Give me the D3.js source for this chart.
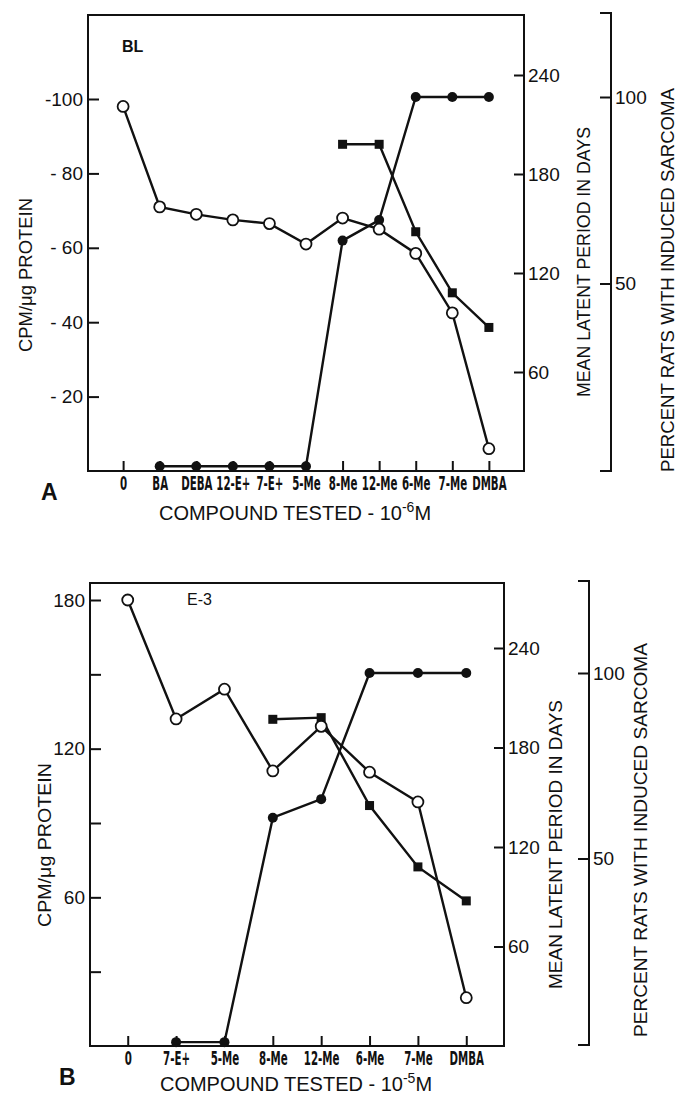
<!DOCTYPE html>
<html>
<head>
<meta charset="utf-8">
<script src="https://cdn.jsdelivr.net/npm/d3@7"></script>
<style>
body { margin: 0; background: #fff; }
svg text { font-family: "Liberation Sans", Arial, sans-serif; fill: #111; }
.tick line { stroke: #111; stroke-width: 2; }
.xlab text { font-family: "DejaVu Sans Condensed", "DejaVu Sans", sans-serif; font-weight: bold; }
</style>
</head>
<body>
<svg id="chart" width="677" height="1097"></svg>
<script>
// panel A - BL cells
var catsA = ["0", "BA", "DEBA", "12-E+", "7-E+", "5-Me", "8-Me", "12-Me", "6-Me", "7-Me", "DMBA"];
var cpmA = [98, 71, 69, 67.5, 66.5, 61, 68, 65, 58.5, 42.5, 6];
var latentA = [null, null, null, null, null, null, 198, 198, 145, 108, 87];
var percentA = [null, 1, 1, 1, 1, 1, 61.5, 67, 100, 100, 100];
var cpmTicksA = [20, 40, 60, 80, 100];

// panel B - E-3 cells
var catsB = ["0", "7-E+", "5-Me", "8-Me", "12-Me", "6-Me", "7-Me", "DMBA"];
var cpmB = [180, 132, 144, 111, 129, 110.5, 98.5, 19.5];
var latentB = [null, null, null, 197, 198, 145, 108, 87.5];
var percentB = [null, 0.5, 0.5, 61, 66, 100, 100, 100];
var cpmTicksB = [30, 60, 90, 120, 150, 180];

var dayTicks = [60, 120, 180, 240];
var percentTicks = [50, 100];

var svg = d3.select("#chart");

function drawPanel(p) {
    var g = svg.append("g");

    var x = d3.scalePoint().domain(p.cats).range([p.left, p.right]).padding(p.pad);
    var y = d3.scaleLinear().domain([0, p.cpmRef]).range([p.bottom, p.cpmRefY]);
    var yd = d3.scaleLinear().domain([0, 240]).range([p.bottom, p.day240]);
    var yp = d3.scaleLinear().domain([0, 100]).range([p.pctBottom, p.pct100]);

    // frame
    g.append("rect")
        .attr("x", p.left).attr("y", p.top)
        .attr("width", p.right - p.left).attr("height", p.bottom - p.top)
        .style("fill", "none").style("stroke", "#111").style("stroke-width", 2);

    // left axis
    var ax = g.append("g").attr("transform", "translate(" + p.left + ",0)")
        .call(d3.axisLeft(y).tickValues(p.cpmTicks).tickSize(-11).tickPadding(5).tickFormat(p.cpmFmt));
    ax.select(".domain").remove();
    ax.selectAll("text").style("font-size", "19px");

    // x axis
    var xa = g.append("g").attr("class", "xlab").attr("transform", "translate(0," + p.bottom + ")")
        .call(d3.axisBottom(x).tickSize(-10).tickPadding(6));
    xa.select(".domain").remove();
    xa.selectAll("text").style("font-size", "19px").attr("transform", "scale(0.6,1)");

    // days axis on right edge
    var da = g.append("g").attr("transform", "translate(" + p.right + ",0)")
        .call(d3.axisRight(yd).tickValues(dayTicks).tickSize(-10).tickPadding(4));
    da.select(".domain").remove();
    da.selectAll("text").style("font-size", "19px");

    // percent axis, separate line
    var pa = g.append("g").attr("transform", "translate(" + p.pctX + ",0)")
        .call(d3.axisRight(yp).tickValues(percentTicks).tickSize(-11).tickPadding(4));
    pa.select(".domain").remove();
    pa.selectAll("text").style("font-size", "19px");
    g.append("path")
        .attr("d", "M" + (p.pctX - 11) + "," + p.pctTop + "H" + p.pctX + "V" + p.pctEnd + "H" + (p.pctX - 11))
        .style("fill", "none").style("stroke", "#111").style("stroke-width", 2);

    // lines
    function series(vals, scale) {
        return vals.map(function (v, i) { return v == null ? null : { x: x(p.cats[i]), y: scale(v) }; });
    }
    var line = d3.line().defined(function (d) { return d != null; })
        .x(function (d) { return d.x; }).y(function (d) { return d.y; });

    var sPct = series(p.percent, yp), sDay = series(p.latent, yd), sCpm = series(p.cpm, y);
    [sPct, sDay, sCpm].forEach(function (s) {
        g.append("path").attr("d", line(s))
            .style("fill", "none").style("stroke", "#111").style("stroke-width", 2.4);
    });

    var ok = function (d) { return d != null; };
    g.selectAll(".pct").data(sPct.filter(ok)).enter().append("circle")
        .attr("cx", function (d) { return d.x; }).attr("cy", function (d) { return d.y; })
        .attr("r", 5).style("fill", "#111");
    g.selectAll(".day").data(sDay.filter(ok)).enter().append("rect")
        .attr("x", function (d) { return d.x - 4.5; }).attr("y", function (d) { return d.y - 4.5; })
        .attr("width", 9).attr("height", 9).style("fill", "#111");
    g.selectAll(".cpm").data(sCpm.filter(ok)).enter().append("circle")
        .attr("cx", function (d) { return d.x; }).attr("cy", function (d) { return d.y; })
        .attr("r", 5.5).style("fill", "#fff").style("stroke", "#111").style("stroke-width", 1.8);

    // texts
    g.append("text").attr("x", p.cell[0]).attr("y", p.cell[1])
        .style("font-size", "16px").style("font-weight", p.cellBold).text(p.cellName);
    g.append("text").attr("x", p.letter[0]).attr("y", p.letter[1])
        .style("font-size", "23px").style("font-weight", "900").text(p.letterName);

    function vtitle(txt, cx, y0, y1) {
        g.append("text")
            .attr("transform", "translate(" + cx + "," + ((y0 + y1) / 2) + ") rotate(-90)")
            .attr("text-anchor", "middle").attr("dy", "0.36em")
            .attr("textLength", y1 - y0).attr("lengthAdjust", "spacingAndGlyphs")
            .style("font-size", "19px").text(txt);
    }
    vtitle("CPM/\u03bcg PROTEIN", p.cpmTitle[0], p.cpmTitle[1], p.cpmTitle[2]);
    vtitle("MEAN LATENT PERIOD IN DAYS", p.dayTitle[0], p.dayTitle[1], p.dayTitle[2]);
    vtitle("PERCENT RATS WITH INDUCED SARCOMA", p.pctTitle[0], p.pctTitle[1], p.pctTitle[2]);

    var t = g.append("text").attr("x", p.comp[0]).attr("y", p.comp[1])
        .attr("text-anchor", "middle").style("font-size", "20px");
    t.append("tspan").text("COMPOUND TESTED - 10");
    t.append("tspan").attr("dy", -8).style("font-size", "14px").text(p.expo);
    t.append("tspan").attr("dy", 8).text("M");
}

drawPanel({
    cats: catsA, cpm: cpmA, latent: latentA, percent: percentA,
    cpmTicks: cpmTicksA, cpmFmt: function (d) { return (d === 100 ? "-" : "- ") + d; },
    left: 88, right: 524, top: 15, bottom: 471, pad: 0.96,
    cpmRef: 100, cpmRefY: 99, day240: 75,
    pctX: 611, pctTop: 13, pctEnd: 471, pctBottom: 470, pct100: 97,
    cell: [122, 52], cellName: "BL", cellBold: "bold",
    letter: [41, 500], letterName: "A",
    cpmTitle: [25, 198, 352], dayTitle: [583, 127, 397], pctTitle: [667, 88, 472],
    comp: [295, 520], expo: "-6"
});

drawPanel({
    cats: catsB, cpm: cpmB, latent: latentB, percent: percentB,
    cpmTicks: cpmTicksB, cpmFmt: function (d) { return d % 60 === 0 ? d : ""; },
    left: 90, right: 504, top: 583, bottom: 1046, pad: 0.78,
    cpmRef: 180, cpmRefY: 600, day240: 648,
    pctX: 589, pctTop: 581, pctEnd: 1045, pctBottom: 1044, pct100: 673,
    cell: [187, 605], cellName: "E-3", cellBold: "normal",
    letter: [59, 1085], letterName: "B",
    cpmTitle: [44, 763, 927], dayTitle: [555, 700, 989], pctTitle: [640, 643, 1037],
    comp: [296, 1091], expo: "-5"
});
</script>
</body>
</html>
